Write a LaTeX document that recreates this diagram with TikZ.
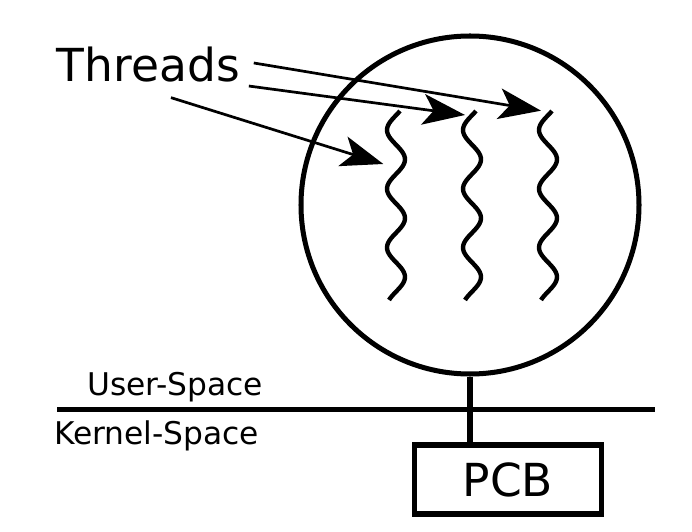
\documentclass[tikz,border=0pt]{standalone}
\usepackage{fontspec}
\setmainfont{DejaVu Sans}
\usepackage{tikz}
\usetikzlibrary{arrows.meta}

\begin{document}
\begin{tikzpicture}[scale=0.2,
  heavy/.style={line width=2.85pt},
  thread/.style={line width=2.5pt},
  pointer/.style={line width=1.55pt,-{Stealth[length=24pt,width=17.5pt,inset=6pt]}},
  big text/.style={font=\fontsize{25.9}{30}\selectfont},
  small text/.style={font=\fontsize{17.8}{21}\selectfont}]
\tikzstyle{every node}+=[inner sep=0pt]
\useasboundingbox (0,0) rectangle (69.2,-53.2);
\node [heavy, draw, circle, minimum size=6.76cm] (proc) at (47,-20.5) {};
\draw [thread] plot [domain=11.1:30, samples=90, smooth, variable=\y] ({39.6-0.9*sin(360*(\y-11.53)/5.88)}, {-\y});
\draw [thread] plot [domain=11.1:30, samples=90, smooth, variable=\y] ({47.2-0.9*sin(360*(\y-11.53)/5.88)}, {-\y});
\draw [thread] plot [domain=11.1:30, samples=90, smooth, variable=\y] ({54.8-0.9*sin(360*(\y-11.53)/5.88)}, {-\y});
\node [big text, anchor=base west] (thr) at (5.65,-8.17) {Threads};
\coordinate (t1) at (38.33,-16.4);
\coordinate (t2) at (46.5,-11.5);
\coordinate (t3) at (54.1,-11.07);
\draw [pointer] ([xshift=39pt,yshift=5pt]thr.east) -- (t3);
\draw [pointer] ([xshift=25pt,yshift=-9.5pt]thr.south east) -- (t2);
\draw [pointer] ([xshift=64.5pt,yshift=-42.5pt]thr.south) -- (t1);
\node [small text, anchor=base west] (usr) at (8.68,-39.6) {User-Space};
\node [small text, anchor=base west] (krn) at (5.39,-44.4) {Kernel-Space};
\coordinate (ul) at (5.73,-41);
\coordinate (ur) at (65.53,-41);
\draw [heavy] (ul) -- (ur);
\node [heavy, draw, big text, minimum width=3.73cm, minimum height=1.38cm] (pcb) at (50.8,-47.95) {PCB};
\draw [heavy] (proc.south) -- (proc.south |- pcb.north);
\end{tikzpicture}
\end{document}
